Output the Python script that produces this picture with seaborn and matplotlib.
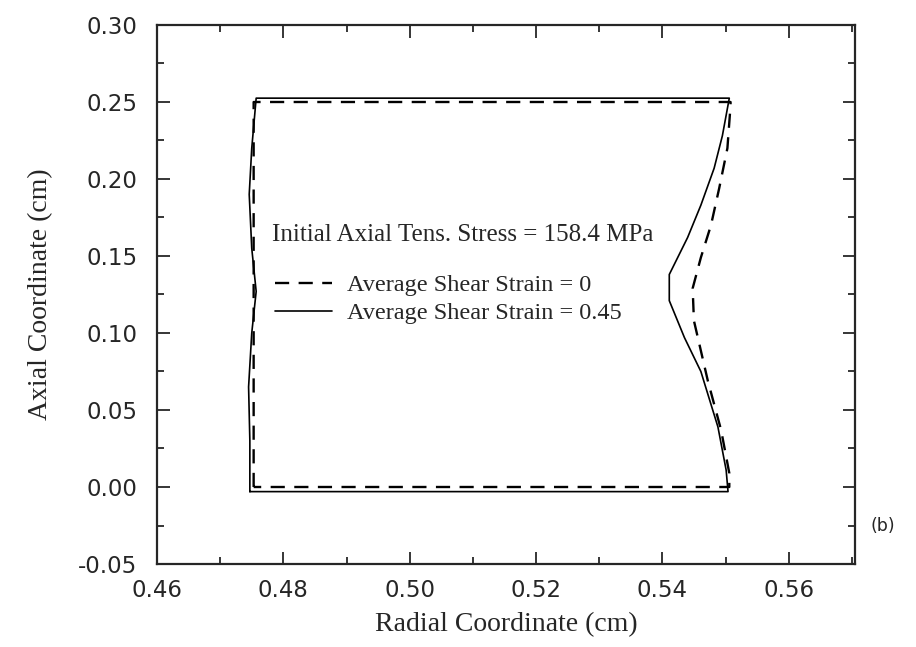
import pandas as pd
import matplotlib
matplotlib.use("Agg")
import matplotlib.pyplot as plt
from matplotlib.ticker import MultipleLocator, FormatStrFormatter
import seaborn as sns

# Deformed specimen outlines (radial, axial in cm)
shear0_x = [0.4753, 0.4753, 0.5508, 0.5508, 0.5503, 0.5490, 0.5477, 0.5461,
            0.5448, 0.5450, 0.5472, 0.5493, 0.5506, 0.5506, 0.4753]
shear0_y = [0.000, 0.250, 0.250, 0.2478, 0.220, 0.194, 0.170, 0.149,
            0.129, 0.108, 0.069, 0.037, 0.009, 0.000, 0.000]

shear045_x = [0.4747, 0.4747, 0.4745, 0.4750, 0.4757, 0.4750, 0.4746, 0.4750, 0.4757,
              0.5506, 0.5495, 0.5482, 0.5461, 0.5440, 0.5411, 0.5411, 0.5435, 0.5461,
              0.5488, 0.5501, 0.5504, 0.4747]
shear045_y = [-0.003, 0.030, 0.065, 0.100, 0.127, 0.155, 0.190, 0.220, 0.2525,
              0.2525, 0.228, 0.207, 0.183, 0.162, 0.138, 0.121, 0.097, 0.075,
              0.039, 0.011, -0.003, -0.003]

label0 = "Average Shear Strain = 0"
label045 = "Average Shear Strain = 0.45"
legend_title = "Initial Axial Tens. Stress = 158.4 MPa"

df0 = pd.DataFrame({"r": shear0_x, "z": shear0_y})
df045 = pd.DataFrame({"r": shear045_x, "z": shear045_y})

sns.set_style("ticks")
plt.rcParams['font.family'] = ['Liberation Serif', 'DejaVu Serif']

fig = plt.figure(figsize=(9.16, 6.47), dpi=100)
ax = fig.add_axes([157 / 916, 1 - 564 / 647, 698 / 916, 539 / 647])

sns.lineplot(data=df0, x="r", y="z", sort=False, estimator=None, ax=ax,
             color="black", lw=1.7, label=label0)
ax.lines[-1].set_dashes((6, 4))
sns.lineplot(data=df045, x="r", y="z", sort=False, estimator=None, ax=ax,
             color="black", lw=1.2, label=label045)

ax.set_xlim(0.46, 0.5705)
ax.set_ylim(-0.05, 0.30)
ax.xaxis.set_major_locator(MultipleLocator(0.02))
ax.xaxis.set_minor_locator(MultipleLocator(0.01))
ax.yaxis.set_major_locator(MultipleLocator(0.05))
ax.yaxis.set_minor_locator(MultipleLocator(0.025))
ax.xaxis.set_major_formatter(FormatStrFormatter('%.2f'))
ax.yaxis.set_major_formatter(FormatStrFormatter('%.2f'))
ax.tick_params(which='both', direction='in', top=True, right=True, width=1.3)
ax.tick_params(which='major', length=9, labelsize=16.5)
ax.tick_params(axis='y', which='major', pad=14)
ax.tick_params(axis='x', which='major', pad=11)
ax.tick_params(which='minor', length=5)
for lab in ax.get_xticklabels() + ax.get_yticklabels():
    lab.set_family('DejaVu Sans')
for s in ax.spines.values():
    s.set_linewidth(1.6)

ax.set_xlabel("Radial Coordinate (cm)", fontsize=20, labelpad=7)
ax.set_ylabel("Axial Coordinate (cm)", fontsize=20, labelpad=18)

ax.text(0.165, 0.610, legend_title, transform=ax.transAxes, fontsize=18,
        ha='left', va='center')
ax.legend(loc='upper left', bbox_to_anchor=(0.169, 0.538), frameon=False,
          fontsize=17.5, borderpad=0, borderaxespad=0, handlelength=2.35,
          handletextpad=0.6, labelspacing=0.25)

fig.text(0.950, 0.187, "(b)", fontsize=12.5, family='DejaVu Sans', va='center')

fig.savefig("out.png", dpi=100)
